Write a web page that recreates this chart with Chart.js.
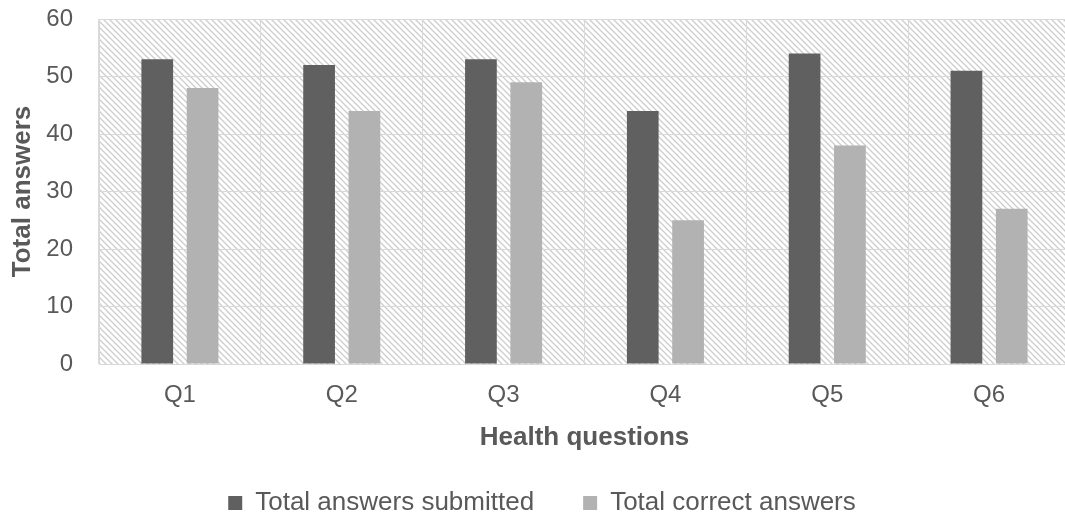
<!DOCTYPE html>
<html>
<head>
<meta charset="utf-8">
<script src="https://cdn.jsdelivr.net/npm/chart.js@4"></script>
<style>
  html, body { margin: 0; padding: 0; background: #fff; overflow: hidden; }
  #wrap { width: 1072px; height: 521px; }
</style>
</head>
<body>
<div id="wrap"><canvas id="answers" width="1072" height="521"></canvas></div>
<script>
const questions = ["Q1", "Q2", "Q3", "Q4", "Q5", "Q6"];
const submitted = [53, 52, 53, 44, 54, 51];
const correct = [48, 44, 49, 25, 38, 27];
const yTicks = [0, 10, 20, 30, 40, 50, 60];

const textGrey = "#595959";
const gridGrey = "#d9d9d9";

// diagonal hatch for the plot background
function makeHatch() {
  let tile = document.createElement("canvas");
  tile.width = 6;
  tile.height = 6;
  let t = tile.getContext("2d");
  t.strokeStyle = "#cdcdcd";
  t.lineWidth = 1.3;
  t.beginPath();
  t.moveTo(-1, -1);
  t.lineTo(7, 7);
  t.moveTo(-4, 2);
  t.lineTo(4, 10);
  t.moveTo(2, -4);
  t.lineTo(10, 4);
  t.stroke();
  return tile;
}

const hatchBackground = {
  id: "hatchBackground",
  beforeDraw(chart) {
    const { ctx, chartArea } = chart;
    ctx.save();
    ctx.fillStyle = ctx.createPattern(makeHatch(), "repeat");
    ctx.fillRect(chartArea.left, chartArea.top, chartArea.right - chartArea.left, chartArea.bottom - chartArea.top);
    ctx.restore();
  },
};

// the legend sits a few px right of the canvas centre in the original
const legendNudge = {
  id: "legendNudge",
  afterLayout(chart) {
    chart.legend.left += 7;
    chart.legend.right += 7;
  },
};

let ctx = document.querySelector("#answers").getContext("2d");

let answersChart = new Chart(ctx, {
  type: "bar",
  data: {
    labels: questions,
    datasets: [
      {
        label: "Total answers submitted",
        data: submitted,
        backgroundColor: "#606060",
        borderWidth: 0,
        categoryPercentage: 0.56,
        barPercentage: 0.7,
      },
      {
        label: "Total correct answers",
        data: correct,
        backgroundColor: "#b2b2b2",
        borderWidth: 0,
        categoryPercentage: 0.56,
        barPercentage: 0.7,
      },
    ],
  },
  plugins: [hatchBackground, legendNudge],
  options: {
    responsive: false,
    animation: false,
    layout: {
      padding: { top: 19, right: 2, left: 0, bottom: -5 },
    },
    plugins: {
      tooltip: { enabled: false },
      legend: {
        position: "bottom",
        labels: {
          color: textGrey,
          boxWidth: 14,
          boxHeight: 14,
          padding: 49,
          font: { family: "'Liberation Sans', Arial, sans-serif", size: 26 },
        },
      },
    },
    scales: {
      x: {
        afterFit: (scale) => {
          scale.height = 77;
        },
        grid: {
          color: gridGrey,
          drawTicks: false,
        },
        border: { color: gridGrey },
        ticks: {
          color: textGrey,
          padding: 17,
          font: { family: "'Liberation Sans', Arial, sans-serif", size: 24 },
        },
        title: {
          display: true,
          text: "Health questions",
          color: textGrey,
          padding: { top: 0, bottom: -12 },
          font: { family: "'Liberation Sans', Arial, sans-serif", size: 26, weight: "bold" },
        },
      },
      y: {
        min: 0,
        max: 60,
        afterFit: (scale) => {
          scale.width = 99;
          scale.paddingTop = 0;
          scale.paddingBottom = 0;
        },
        afterBuildTicks: (scale) => {
          scale.ticks = yTicks.map((v) => ({ value: v }));
        },
        grid: {
          color: gridGrey,
          drawTicks: false,
        },
        border: { color: gridGrey },
        ticks: {
          color: textGrey,
          padding: 26,
          font: { family: "'Liberation Sans', Arial, sans-serif", size: 24 },
        },
        title: {
          display: true,
          text: "Total answers",
          color: textGrey,
          padding: { top: 7, bottom: 0 },
          font: { family: "'Liberation Sans', Arial, sans-serif", size: 26, weight: "bold" },
        },
      },
    },
  },
});
</script>
</body>
</html>
